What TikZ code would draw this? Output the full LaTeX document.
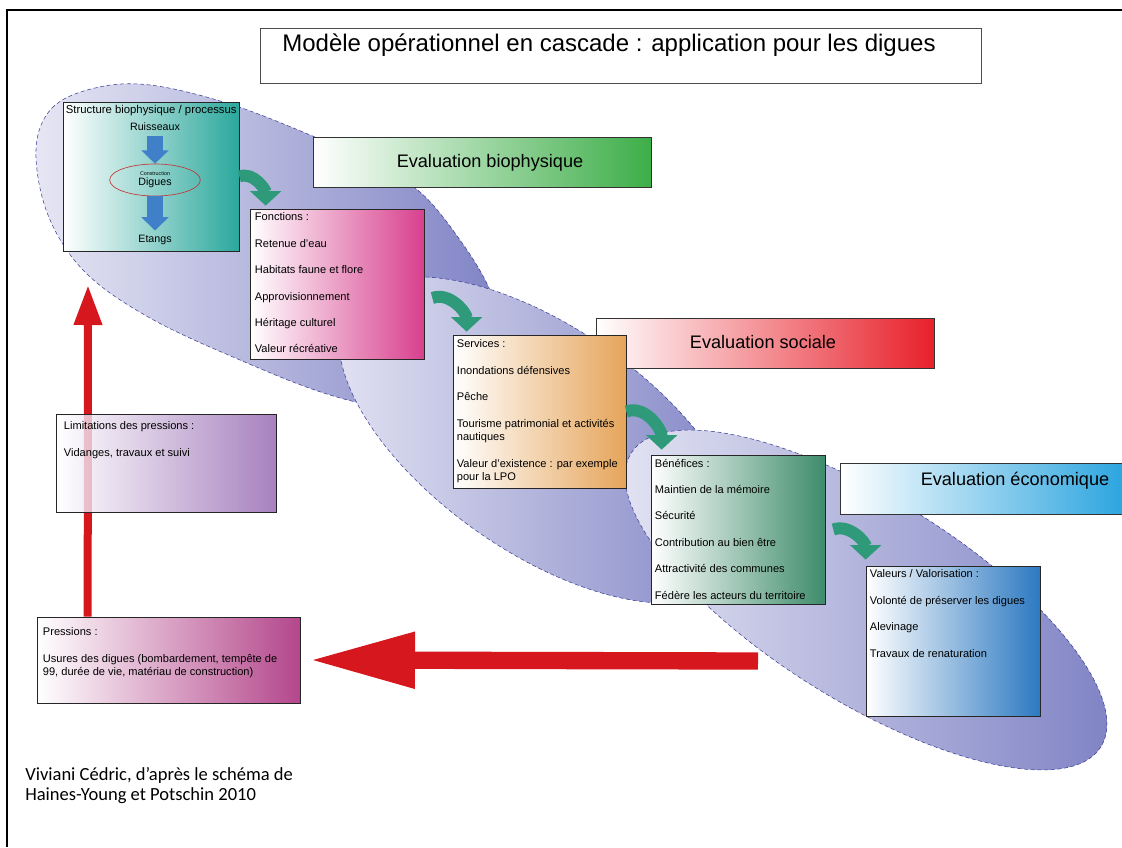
\documentclass[tikz,border=0pt]{standalone}
\usepackage{fontspec}
\setmainfont{Liberation Sans}
\newfontfamily\capfont{Carlito}
\usetikzlibrary{arrows.meta,calc,fit,shapes.geometric}

\definecolor{ellL}{HTML}{E6E6F4}
\definecolor{ellR}{HTML}{7C80C3}
\definecolor{ellLine}{HTML}{3C3F96}
\definecolor{tealS}{HTML}{2BA89C}
\definecolor{pinkF}{HTML}{D8408E}
\definecolor{orangeS}{HTML}{E5A55A}
\definecolor{greenB}{HTML}{3E8C6B}
\definecolor{blueV}{HTML}{2C79C1}
\definecolor{bannerG}{HTML}{3DAE48}
\definecolor{bannerR}{HTML}{E8202A}
\definecolor{bannerE}{HTML}{2AA4DF}
\definecolor{purpleL}{HTML}{9162AE}
\definecolor{magentaP}{HTML}{B4478C}
\definecolor{arrowG}{HTML}{2E9A7A}
\definecolor{arrowR}{HTML}{D6171E}
\definecolor{arrowB}{HTML}{3F80C9}
\definecolor{digueR}{HTML}{C0393B}

\begin{document}
\begin{tikzpicture}[x=0.75pt,y=-0.75pt,
  ell/.style={densely dashed,draw=ellLine,line width=0.4pt,left color=ellL,right color=ellR},
  box/.style={draw=black!85,line width=0.5pt,inner sep=0pt,left color=white},
  banner/.style={draw=black!80,line width=0.5pt,inner sep=0pt,left color=white},
  bannertext/.style={font=\fontsize{13.6}{16}\selectfont},
  txt/.style={inner sep=0pt,anchor=north west,align=left,font=\fontsize{8.3}{10.1}\selectfont},
  cascade/.style={draw=arrowG,line width=9pt,-{Triangle[width=23pt,length=11pt]}},
  flow/.style={draw=arrowB,line width=12pt,-{Triangle[width=20pt,length=10pt]}},
  feedback/.style={draw=arrowR,line width=6pt,-{Triangle[width=20pt,length=30pt]}},
  pressure/.style={draw=arrowR,line width=13pt,-{Triangle[width=39pt,length=80pt]}}]
  \useasboundingbox (0,0) rectangle (1122,847);
  \draw[line width=0.8pt] (7,847) -- (7,10) -- (1122,10);

  % cascade
  \path[ell] plot[smooth cycle,tension=0.6] coordinates {(36,150) (52,108) (95,88) (150,85) (230,104) (315,137)
    (370,162) (420,192) (460,240) (490,290) (510,350) (512,400) (485,420) (420,415) (330,395) (240,360)
    (150,318) (85,272) (48,215)};
  \path[ell] (542,440) ellipse [x radius=235,y radius=112,rotate=-35];
  \path[ell] (866,600) ellipse [x radius=277,y radius=101,rotate=-32];

  \node[draw=black!70,line width=0.6pt,inner sep=0pt,fit={(260,28)(981,83)}] (titlebox) {};
  \node[font=\fontsize{18}{21}\selectfont] (title) at (609,45) {Modèle opérationnel en cascade : application pour les digues};

  \node[banner,right color=bannerG,fit={(313,137)(651,187)}] (evalbio) {};
  \node[bannertext] at ($(evalbio.center)+(8,1)$) {Evaluation biophysique};
  \node[banner,right color=bannerR,fit={(596,318)(934,368)}] (evalsoc) {};
  \node[bannertext] at ($(evalsoc.center)+(-2,-1)$) {Evaluation sociale};
  \node[banner,right color=bannerE,fit={(840,463)(1126,514)}] (evaleco) {};
  \node[bannertext] at (1015,481) {Evaluation économique};

  % structure
  \node[box,right color=tealS,fit={(63,102)(239,251)}] (struct) {};
  \node[txt,font=\fontsize{8.5}{10}\selectfont] (structtitle) at ($(struct.north west)+(3,3)$) {Structure biophysique / processus};
  \node[font=\fontsize{8}{9}\selectfont] (ruisseaux) at (155,127) {Ruisseaux};
  \node[ellipse,draw=digueR,line width=0.5pt,minimum width=68pt,minimum height=24pt,inner sep=0pt,align=center,
    font=\fontsize{8}{7.5}\selectfont] (digues) at (155,180) {{\fontsize{4}{5}\selectfont Construction}\\Digues};
  \node[font=\fontsize{8}{9}\selectfont] (etangs) at (155,240) {Etangs};
  \draw[flow] (ruisseaux) -- (digues);
  \draw[flow] (digues) -- (etangs);

  \node[box,right color=pinkF,fit={(250,209)(424,359)}] (fonctions) {};
  \node[txt] at ($(fonctions.north west)+(5,4)$) {Fonctions :\\[9.7pt]Retenue d'eau\\[9.7pt]Habitats faune et flore\\[9.7pt]Approvisionnement\\[9.7pt]Héritage culturel\\[9.7pt]Valeur récréative};

  \node[box,right color=orangeS,fit={(453,335)(626,488)}] (services) {};
  \node[txt] at ($(services.north west)+(4,5)$) {Services :\\[9.7pt]Inondations défensives\\[9.7pt]Pêche\\[9.7pt]Tourisme patrimonial et activités\\nautiques\\[9.7pt]Valeur d’existence : par exemple\\pour la LPO};

  \node[box,right color=greenB,fit={(651,455)(825,604)}] (benefices) {};
  \node[txt] at ($(benefices.north west)+(4,4)$) {Bénéfices :\\[9.7pt]Maintien de la mémoire\\[9.7pt]Sécurité\\[9.7pt]Contribution au bien être\\[9.7pt]Attractivité des communes\\[9.7pt]Fédère les acteurs du territoire};

  \node[box,right color=blueV,fit={(866,566)(1040,716)}] (valeurs) {};
  \node[txt] at ($(valeurs.north west)+(4,4)$) {Valeurs / Valorisation :\\[9.7pt]Volonté de préserver les digues\\[9.7pt]Alevinage\\[9.7pt]Travaux de renaturation};

  \draw[cascade] (struct.east) to[out=20,in=90] ($(fonctions.north west)+(16,-3)$);
  \draw[cascade] (fonctions.east) ++(8,14) to[out=20,in=90] ($(services.north west)+(14,-3)$);
  \draw[cascade] (services.east) to[out=20,in=90] ($(benefices.north west)+(11,-5)$);
  \draw[cascade] (benefices.east) ++(8,0) to[out=20,in=90] ($(valeurs.north west)+(0,-6)$);

  % pressions
  \node[box,right color=magentaP,fit={(37,617)(300,703)}] (pressions) {};
  \node[txt] at ($(pressions.north west)+(6,11)$) {Pressions :\\[9.7pt]Usures des digues (bombardement, tempête de\\99, durée de vie, matériau de construction)};
  \coordinate (limtip) at (88,285);
  \draw[feedback] ($(pressions.north west)+(51,0)$) -- (limtip);
  \node[box,right color=purpleL,fill opacity=0.8,fit={(56,414)(276,512)}] (limits) {};
  \node[txt] at ($(limits.north west)+(8,8)$) {Limitations des pressions :\\[9.7pt]Vidanges, travaux et suivi};
  \coordinate (impact) at (758,661);
  \draw[pressure] (impact) -- ($(pressions.east)+(8,0)$);

  \node[anchor=north west,align=left,inner sep=0pt,font=\capfont\fontsize{13.9}{15.2}\selectfont] (credit) at (25,767) {Viviani Cédric, d’après le schéma de\\Haines-Young et Potschin 2010};
\end{tikzpicture}
\end{document}
